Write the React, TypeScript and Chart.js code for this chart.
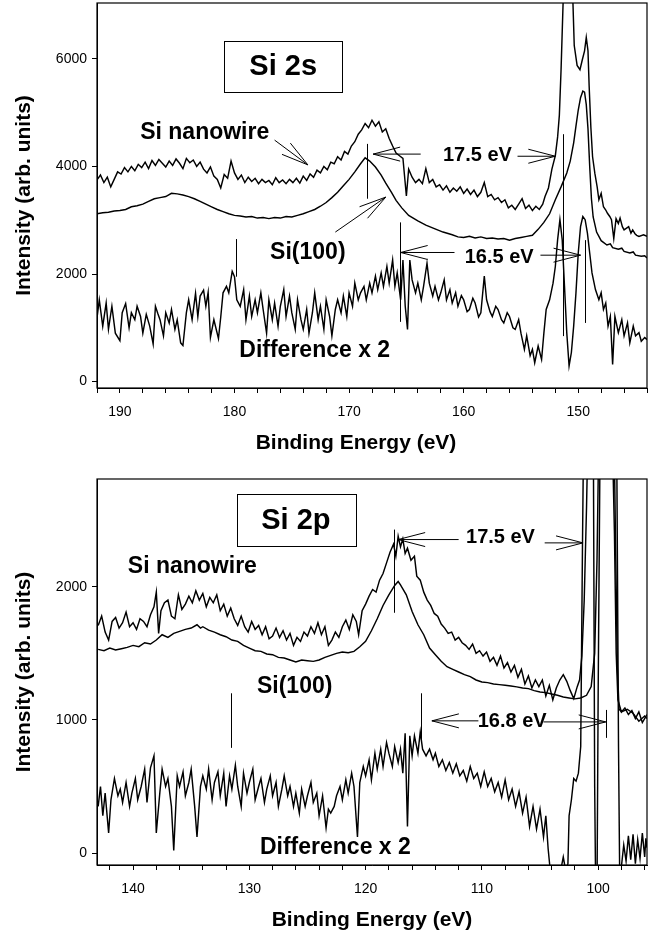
import React, { useEffect, useRef } from 'react';
import { Chart, registerables } from 'chart.js';

Chart.register(...registerables);

const FONT = '"Liberation Sans", Arial, Helvetica, sans-serif';

// ---------------- Si 2s panel data (binding energy eV, intensity) ----------------
const si2sNanowire: [number, number][] = [
  [192.0, 3750], [191.7, 3840], [191.4, 3700], [191.1, 3800], [190.8, 3620], [190.5, 3760], [190.2, 3900],
  [189.9, 3860], [189.6, 3980], [189.3, 3900], [189.0, 4000], [188.7, 3920], [188.4, 4040], [188.1, 3980],
  [187.8, 4080], [187.5, 3960], [187.2, 4110], [186.9, 4020], [186.6, 4130], [186.3, 4060], [186.0, 3990],
  [185.7, 4100], [185.4, 4020], [185.1, 4140], [184.8, 4060], [184.5, 3960], [184.2, 4150], [183.9, 4070],
  [183.6, 4120], [183.3, 4000], [183.0, 4080], [182.7, 3950], [182.4, 3880], [182.1, 3990], [181.8, 3820],
  [181.5, 3760], [181.2, 3600], [180.9, 3850], [180.6, 3780], [180.3, 4100], [180.0, 3880], [179.7, 3760],
  [179.4, 3840], [179.1, 3700], [178.8, 3800], [178.5, 3720], [178.2, 3780], [177.9, 3680], [177.6, 3760],
  [177.3, 3700], [177.0, 3740], [176.7, 3660], [176.4, 3790], [176.1, 3700], [175.8, 3750], [175.5, 3680],
  [175.2, 3760], [174.9, 3700], [174.6, 3780], [174.3, 3690], [174.0, 3820], [173.7, 3740], [173.4, 3860],
  [173.1, 3800], [172.8, 3930], [172.5, 3880], [172.2, 4000], [171.9, 3940], [171.6, 4080], [171.3, 4050],
  [171.0, 4180], [170.7, 4120], [170.4, 4280], [170.1, 4230], [169.8, 4380], [169.5, 4460], [169.2, 4600],
  [168.9, 4680], [168.6, 4800], [168.3, 4720], [168.0, 4860], [167.7, 4750], [167.4, 4830], [167.1, 4640],
  [166.8, 4700], [166.5, 4520], [166.2, 4380], [165.9, 4250], [165.6, 4200], [165.3, 4150], [165.0, 3450],
  [164.8, 3950], [164.5, 3800], [164.2, 3700], [163.9, 3760], [163.6, 3680], [163.3, 3960], [163.0, 3700],
  [162.7, 3760], [162.4, 3620], [162.1, 3660], [161.8, 3560], [161.5, 3640], [161.2, 3520], [160.9, 3600],
  [160.6, 3540], [160.3, 3620], [160.0, 3500], [159.7, 3580], [159.4, 3480], [159.1, 3560], [158.8, 3440],
  [158.5, 3520], [158.2, 3700], [157.9, 3440], [157.6, 3480], [157.3, 3380], [157.0, 3420], [156.7, 3330],
  [156.4, 3380], [156.1, 3230], [155.8, 3280], [155.5, 3200], [155.2, 3300], [154.9, 3400], [154.6, 3220],
  [154.3, 3280], [154.0, 3180], [153.7, 3260], [153.4, 3200], [153.1, 3300], [152.9, 3440], [152.6, 3600],
  [152.3, 3950], [152.0, 4200], [151.8, 4550], [151.65, 4950], [151.5, 5800], [151.3, 7200], [151.0, 9000],
  [150.7, 9000], [150.5, 7300], [150.35, 6250], [150.1, 5880], [149.85, 5800], [149.65, 5980], [149.45, 6150],
  [149.3, 6400], [149.15, 6150], [149.05, 5500], [148.9, 4730], [148.75, 4180], [148.55, 3870], [148.35, 3620],
  [148.2, 3380], [148.0, 3500], [147.8, 3250], [147.6, 3190], [147.45, 3130], [147.25, 3070], [147.1, 3010],
  [146.9, 2660], [146.7, 3030], [146.5, 2940], [146.35, 3040], [146.15, 2880], [146.0, 2820], [145.6, 2880],
  [145.4, 2760], [145.25, 2820], [145.05, 2750], [144.9, 2720], [144.7, 2700], [144.3, 2730], [144.0, 2700],
];

const si2sBulk: [number, number][] = [
  [192, 3120], [191.5, 3140], [191, 3150], [190.5, 3170], [190, 3180], [189.5, 3200], [189, 3250], [188.5, 3270],
  [188, 3300], [187.5, 3350], [187, 3400], [186.5, 3420], [186, 3440], [185.5, 3500], [185, 3490], [184.5, 3470],
  [184, 3440], [183.5, 3400], [183, 3350], [182.5, 3300], [182, 3250], [181.5, 3200], [181, 3160], [180.5, 3120],
  [180, 3090], [179.5, 3080], [179, 3060], [178.5, 3070], [178, 3040], [177.5, 3050], [177, 3030], [176.5, 3050],
  [176, 3040], [175.5, 3070], [175, 3060], [174.5, 3090], [174, 3120], [173.5, 3160], [173, 3200], [172.5, 3260],
  [172, 3330], [171.5, 3420], [171, 3520], [170.5, 3640], [170, 3760], [169.5, 3900], [169, 4050], [168.6, 4160],
  [168.2, 4100], [167.7, 3990], [167.2, 3840], [166.8, 3690], [166.3, 3520], [165.9, 3370], [165.4, 3230],
  [164.8, 3090], [164, 2990], [163.3, 2910], [162.5, 2840], [161.8, 2780], [161, 2730], [160.5, 2690], [160, 2680],
  [159.5, 2700], [159, 2670], [158.5, 2690], [158, 2660], [157.5, 2670], [157, 2650], [156.5, 2660], [156, 2630],
  [155.5, 2660], [155, 2680], [154.5, 2700], [154, 2720], [153.5, 2830], [153, 2960], [152.5, 3120], [152, 3380],
  [151.5, 3620], [151, 3880], [150.7, 4100], [150.4, 4440], [150.2, 4750], [150, 5050], [149.8, 5280], [149.6, 5400],
  [149.45, 5380], [149.3, 5150], [149.15, 4700], [149, 4000], [148.85, 3400], [148.7, 3060], [148.4, 2780],
  [148, 2620], [147.5, 2540], [147.2, 2560], [147, 2490], [146.5, 2460], [146.2, 2480], [146, 2420], [145.5, 2390],
  [145.2, 2410], [145, 2350], [144.5, 2330], [144.2, 2340], [144, 2300],
];

const si2sDifference: [number, number][] = [
  [192.0, 1185], [191.8, 1520], [191.5, 1030], [191.2, 1460], [191.0, 970], [190.7, 1400], [190.4, 900], [190.0, 760],
  [189.8, 1280], [189.5, 1450], [189.2, 1000], [189.0, 1280], [188.7, 1150], [188.5, 1400], [188.2, 1210], [188.0, 900],
  [187.7, 1250], [187.4, 1030], [187.1, 700], [186.9, 1400], [186.7, 1270], [186.5, 1150], [186.2, 850], [186.0, 1280],
  [185.7, 1090], [185.5, 1340], [185.2, 970], [185.0, 1150], [184.7, 720], [184.5, 670], [184.2, 1280], [184.0, 1520],
  [183.7, 1150], [183.4, 1640], [183.2, 1210], [183.0, 1590], [182.7, 1700], [182.5, 1400], [182.3, 1660], [182.1, 820],
  [181.8, 1150], [181.4, 800], [181.2, 1200], [181.0, 1650], [180.7, 1770], [180.5, 1650], [180.2, 2050], [180.0, 1950],
  [179.8, 1520], [179.5, 1400], [179.2, 1710], [179.0, 1150], [178.7, 1590], [178.5, 1210], [178.2, 1520], [178.0, 1280],
  [177.7, 1650], [177.5, 1340], [177.2, 900], [177.0, 1520], [176.7, 1150], [176.5, 1460], [176.2, 1030], [176.0, 1400],
  [175.7, 1710], [175.5, 1210], [175.2, 1590], [175.0, 1280], [174.7, 970], [174.5, 1520], [174.2, 1150], [174.0, 970],
  [173.7, 1340], [173.5, 900], [173.2, 1280], [173.0, 1650], [172.7, 1150], [172.5, 1400], [172.2, 970], [172.0, 1520],
  [171.7, 1210], [171.5, 850], [171.2, 1340], [171.0, 1520], [170.7, 1280], [170.5, 1590], [170.2, 1210], [170.0, 1650],
  [169.7, 1400], [169.5, 1830], [169.2, 1520], [169.0, 1650], [168.7, 1770], [168.5, 1520], [168.2, 1830], [168.0, 1650],
  [167.7, 1960], [167.5, 1710], [167.2, 2020], [167.0, 1770], [166.7, 2140], [166.5, 1830], [166.2, 2260], [166.0, 1770],
  [165.8, 2020], [165.5, 1520], [165.3, 2260], [165.1, 1400], [164.9, 970], [164.7, 2260], [164.5, 1890], [164.2, 1650],
  [164.0, 1830], [163.7, 1520], [163.5, 1770], [163.2, 2200], [163.0, 1830], [162.7, 1590], [162.5, 1770], [162.2, 1520],
  [162.0, 1650], [161.7, 1890], [161.5, 1520], [161.2, 1710], [161.0, 1460], [160.7, 1650], [160.5, 1400], [160.2, 1600],
  [160.0, 1520], [159.7, 1300], [159.5, 1340], [159.2, 1550], [159.0, 1460], [158.7, 1200], [158.5, 1280], [158.2, 1960],
  [158.0, 1520], [157.7, 1300], [157.5, 1210], [157.2, 1400], [157.0, 1340], [156.7, 1150], [156.5, 1090], [156.2, 1280],
  [156.0, 1210], [155.7, 1000], [155.5, 970], [155.2, 1150], [155.0, 900], [154.7, 600], [154.5, 850], [154.2, 480],
  [154.0, 600], [153.8, 350], [153.5, 660], [153.2, 410], [153.0, 900], [152.8, 1340], [152.5, 1520], [152.2, 1830],
  [152.0, 2140], [151.8, 2640], [151.6, 3010], [151.4, 2640], [151.2, 1770], [151.0, 900], [150.8, 290], [150.6, 540],
  [150.4, 1030], [150.2, 1650], [150.0, 2390], [149.8, 2880], [149.6, 3070], [149.4, 3010], [149.2, 2760], [149.0, 2390],
  [148.8, 2020], [148.5, 1710], [148.2, 1520], [148.0, 1650], [147.8, 1340], [147.6, 1460], [147.4, 1030], [147.2, 1210],
  [147.0, 320], [146.8, 1210], [146.5, 910], [146.2, 1150], [146.0, 850], [145.7, 1090], [145.5, 720], [145.2, 1030],
  [145.0, 850], [144.7, 910], [144.5, 750], [144.2, 820], [144.0, 780],
];

const si2sXTicks = [144, 146, 148, 150, 152, 154, 156, 158, 160, 162, 164, 166, 168, 170, 172, 174, 176, 178, 180, 182, 184, 186, 188, 190, 192];
const si2sYTicks = [0, 2000, 4000, 6000];

// ---------------- Si 2p panel data ----------------
const si2pNanowire: [number, number][] = [
  [143.0, 1710], [142.7, 1780], [142.4, 1660], [142.1, 1600], [141.8, 1740], [141.5, 1770], [141.2, 1690], [140.9, 1730],
  [140.6, 1810], [140.3, 1700], [140.0, 1730], [139.7, 1680], [139.4, 1760], [139.1, 1740], [138.8, 1700], [138.5, 1790],
  [138.2, 1850], [138.0, 1960], [137.8, 1650], [137.6, 1820], [137.3, 1880], [137.0, 1900], [136.7, 1780], [136.4, 1760],
  [136.1, 1940], [135.8, 1830], [135.5, 1870], [135.2, 1930], [134.9, 1880], [134.6, 1970], [134.3, 1900], [134.0, 1950],
  [133.7, 1850], [133.4, 1920], [133.1, 1880], [132.8, 1940], [132.5, 1820], [132.2, 1870], [131.9, 1780], [131.6, 1840],
  [131.3, 1760], [131.0, 1710], [130.7, 1780], [130.4, 1700], [130.1, 1660], [129.8, 1740], [129.5, 1680], [129.2, 1710],
  [128.9, 1640], [128.6, 1700], [128.3, 1610], [128.0, 1630], [127.7, 1690], [127.4, 1620], [127.1, 1670], [126.8, 1600],
  [126.5, 1650], [126.2, 1560], [125.9, 1620], [125.6, 1590], [125.3, 1660], [125.0, 1630], [124.7, 1700], [124.4, 1650],
  [124.1, 1730], [123.8, 1640], [123.5, 1700], [123.2, 1560], [122.9, 1600], [122.6, 1660], [122.3, 1620], [122.0, 1700],
  [121.7, 1750], [121.4, 1680], [121.1, 1790], [120.8, 1740], [120.6, 1640], [120.3, 1820], [120.0, 1870], [119.7, 1930],
  [119.4, 1980], [119.1, 1960], [118.8, 2050], [118.5, 2100], [118.2, 2180], [117.9, 2260], [117.6, 2320], [117.4, 2230],
  [117.2, 2380], [117.0, 2300], [116.8, 2360], [116.6, 2250], [116.4, 2290], [116.1, 2200], [115.8, 2230], [115.6, 2080],
  [115.3, 2050], [115.0, 1960], [114.7, 1900], [114.4, 1860], [114.1, 1800], [113.8, 1780], [113.5, 1720], [113.2, 1690],
  [112.9, 1650], [112.6, 1660], [112.3, 1600], [112.0, 1620], [111.7, 1580], [111.4, 1560], [111.1, 1530], [110.8, 1570],
  [110.5, 1500], [110.2, 1520], [109.9, 1480], [109.6, 1510], [109.3, 1440], [109.0, 1470], [108.7, 1410], [108.4, 1480],
  [108.1, 1390], [107.8, 1430], [107.5, 1360], [107.2, 1410], [106.9, 1320], [106.6, 1380], [106.3, 1270], [106.0, 1330],
  [105.7, 1240], [105.4, 1300], [105.1, 1250], [104.8, 1300], [104.5, 1180], [104.2, 1260], [103.9, 1150], [103.6, 1240],
  [103.3, 1300], [103.0, 1340], [102.7, 1290], [102.4, 1220], [102.1, 1160], [101.8, 1250], [101.6, 1300], [101.4, 1480],
  [101.2, 1900], [101.0, 2600], [100.8, 3500], [100.6, 4200], [100.3, 4400], [100.0, 4300], [99.7, 4200], [99.4, 4000],
  [99.1, 3700], [98.8, 3200], [98.6, 2400], [98.45, 1500], [98.3, 1150], [98.0, 1060], [97.7, 1090], [97.4, 1040],
  [97.1, 1070], [96.8, 1010], [96.5, 1060], [96.2, 980], [95.8, 1040],
];

const si2pBulk: [number, number][] = [
  [143.0, 1530], [142.5, 1520], [142, 1540], [141.5, 1525], [141, 1535], [140.5, 1545], [140, 1560], [139.5, 1550],
  [139, 1580], [138.5, 1570], [138, 1600], [137.5, 1640], [137, 1620], [136.5, 1650], [136, 1665], [135.5, 1680],
  [135, 1690], [134.5, 1715], [134.2, 1690], [134, 1700], [133.5, 1675], [133, 1660], [132.5, 1640], [132, 1625],
  [131.5, 1600], [131, 1590], [130.5, 1560], [130, 1540], [129.5, 1520], [129, 1515], [128.5, 1495], [128, 1490],
  [127.5, 1470], [127, 1465], [126.5, 1450], [126, 1435], [125.5, 1450], [125, 1445], [124.5, 1440], [124, 1450],
  [123.5, 1470], [123, 1485], [122.5, 1500], [122, 1510], [121.5, 1505], [121, 1515], [120.5, 1550], [120, 1590],
  [119.5, 1670], [119, 1760], [118.5, 1860], [118, 1940], [117.5, 2010], [117.2, 2040], [117, 2015], [116.5, 1940],
  [116, 1815], [115.5, 1715], [115, 1640], [114.5, 1540], [114, 1490], [113.5, 1440], [113, 1400], [112.5, 1380],
  [112, 1360], [111.5, 1340], [111, 1325], [110.5, 1300], [110, 1285], [109.5, 1280], [109, 1270], [108.5, 1265],
  [108, 1260], [107.5, 1255], [107, 1248], [106.5, 1240], [106, 1235], [105.5, 1220], [105, 1210], [104.5, 1205],
  [104, 1195], [103.5, 1185], [103, 1172], [102.5, 1165], [102, 1158], [101.5, 1165], [101, 1185], [100.6, 1250],
  [100.3, 1500], [100.1, 2200], [99.9, 3400], [99.6, 5000], [99.3, 5500], [99.0, 5000], [98.7, 3600], [98.5, 2300],
  [98.35, 1400], [98.2, 1080], [98, 1060], [97.5, 1080], [97, 1050], [96.5, 990], [96, 1030], [95.8, 1010],
];

const si2pDifference: [number, number][] = [
  [143.0, 350], [142.8, 500], [142.6, 280], [142.4, 450], [142.1, 150], [141.9, 400], [141.6, 560], [141.3, 430],
  [141.1, 480], [140.9, 380], [140.6, 530], [140.3, 350], [140.1, 450], [139.8, 560], [139.6, 400], [139.3, 500],
  [139.0, 630], [138.8, 380], [138.5, 640], [138.2, 730], [138.0, 150], [137.7, 450], [137.5, 630], [137.2, 500],
  [137.0, 560], [136.7, 350], [136.5, 20], [136.2, 580], [136.0, 500], [135.7, 610], [135.5, 430], [135.2, 530],
  [135.0, 630], [134.7, 350], [134.5, 120], [134.2, 500], [134.0, 580], [133.7, 480], [133.5, 630], [133.2, 400],
  [133.0, 530], [132.7, 610], [132.5, 430], [132.2, 600], [132.0, 350], [131.7, 580], [131.5, 480], [131.2, 660],
  [131.0, 500], [130.7, 350], [130.5, 600], [130.2, 450], [130.0, 530], [129.7, 630], [129.5, 400], [129.2, 500],
  [129.0, 560], [128.7, 380], [128.5, 480], [128.2, 580], [128.0, 430], [127.7, 530], [127.5, 350], [127.2, 480],
  [127.0, 580], [126.7, 430], [126.5, 500], [126.2, 350], [126.0, 450], [125.7, 300], [125.5, 480], [125.2, 350],
  [125.0, 430], [124.7, 530], [124.5, 380], [124.2, 450], [124.0, 280], [123.7, 430], [123.4, 190], [123.2, 330],
  [123.0, 300], [122.7, 350], [122.5, 430], [122.2, 500], [122.0, 400], [121.7, 550], [121.5, 450], [121.2, 600],
  [121.0, 500], [120.7, 120], [120.5, 530], [120.2, 650], [120.0, 580], [119.7, 700], [119.5, 550], [119.2, 750],
  [119.0, 630], [118.7, 780], [118.5, 650], [118.2, 830], [118.0, 750], [117.7, 650], [117.5, 800], [117.2, 680],
  [117.0, 780], [116.8, 600], [116.6, 900], [116.4, 200], [116.2, 880], [116.0, 730], [115.8, 880], [115.5, 750],
  [115.3, 910], [115.1, 780], [114.8, 730], [114.5, 780], [114.2, 700], [114.0, 750], [113.7, 650], [113.4, 700],
  [113.1, 620], [112.8, 680], [112.5, 600], [112.2, 670], [111.9, 580], [111.6, 620], [111.3, 540], [111.0, 650],
  [110.7, 560], [110.4, 600], [110.1, 500], [109.8, 610], [109.5, 500], [109.2, 560], [108.9, 460], [108.6, 530],
  [108.3, 420], [108.0, 550], [107.7, 400], [107.4, 480], [107.1, 350], [106.8, 460], [106.5, 300], [106.2, 420],
  [105.9, 200], [105.6, 350], [105.3, 180], [105.0, 330], [104.7, 120], [104.5, 280], [104.3, 30], [104.1, -150],
  [103.6, -150], [103.2, -120], [103.0, -30], [102.8, -130], [102.6, -80], [102.5, 280], [102.3, 400], [102.1, 560],
  [101.9, 540], [101.7, 600], [101.5, 800], [101.35, 2300], [101.2, 3600], [100.9, 4500], [100.6, 4200], [100.4, 2800],
  [100.3, 500], [100.2, -400], [100.1, -300], [100.0, 1200], [99.8, 3500], [99.4, 4500], [98.8, 4200], [98.4, 3000],
  [98.25, 800], [98.15, -150], [98.0, -100], [97.8, 60], [97.6, -60], [97.4, 130], [97.2, -50], [97.0, 140],
  [96.8, -80], [96.6, 100], [96.4, -40], [96.2, 150], [96.0, -30], [95.9, 110], [95.8, 40],
];

const si2pXTicks = [96, 98, 100, 102, 104, 106, 108, 110, 112, 114, 116, 118, 120, 122, 124, 126, 128, 130, 132, 134, 136, 138, 140, 142];
const si2pYTicks = [0, 1000, 2000];

// ---------------- annotations (data coordinates) ----------------
type Ann = {
  box: { x1: number; x2: number; y1: number; y2: number; text: string };
  texts: { x: number; y: number; text: string; size: number }[];
  arrows: { x1: number; y1: number; x2: number; y2: number }[];
  markers: { x: number; y1: number; y2: number }[];
};

const si2sAnn: Ann = {
  box: { x1: 180.9, x2: 170.6, y1: 6340, y2: 5390, text: 'Si 2s' },
  texts: [
    { x: 182.6, y: 4620, text: 'Si nanowire', size: 23 },
    { x: 173.6, y: 2390, text: 'Si(100)', size: 23 },
    { x: 173.0, y: 580, text: 'Difference x 2', size: 23 },
    { x: 158.8, y: 4210, text: '17.5 eV', size: 20 },
    { x: 156.9, y: 2310, text: '16.5 eV', size: 20 },
  ],
  arrows: [
    { x1: 163.75, y1: 4230, x2: 167.9, y2: 4230 },
    { x1: 155.3, y1: 4190, x2: 152.0, y2: 4190 },
    { x1: 160.8, y1: 2400, x2: 165.5, y2: 2400 },
    { x1: 153.3, y1: 2350, x2: 149.8, y2: 2350 },
    { x1: 176.5, y1: 4490, x2: 173.6, y2: 4030 },
    { x1: 171.2, y1: 2780, x2: 166.8, y2: 3430 },
  ],
  markers: [
    { x: 179.9, y1: 2650, y2: 1950 },
    { x: 168.4, y1: 4420, y2: 3400 },
    { x: 165.6, y1: 2960, y2: 1110 },
    { x: 151.3, y1: 4600, y2: 845 },
    { x: 149.4, y1: 2630, y2: 1090 },
  ],
};

const si2pAnn: Ann = {
  box: { x1: 131.1, x2: 120.9, y1: 2700, y2: 2310, text: 'Si 2p' },
  texts: [
    { x: 134.9, y: 2150, text: 'Si nanowire', size: 23 },
    { x: 126.1, y: 1250, text: 'Si(100)', size: 23 },
    { x: 122.6, y: 38, text: 'Difference x 2', size: 23 },
    { x: 108.4, y: 2370, text: '17.5 eV', size: 20 },
    { x: 107.4, y: 985, text: '16.8 eV', size: 20 },
  ],
  arrows: [
    { x1: 112.0, y1: 2355, x2: 117.2, y2: 2355 },
    { x1: 104.6, y1: 2330, x2: 101.3, y2: 2330 },
    { x1: 110.3, y1: 993, x2: 114.3, y2: 993 },
    { x1: 104.7, y1: 985, x2: 99.35, y2: 985 },
  ],
  markers: [
    { x: 117.6, y1: 2430, y2: 1805 },
    { x: 131.6, y1: 1200, y2: 790 },
    { x: 115.2, y1: 1200, y2: 835 },
    { x: 99.3, y1: 1075, y2: 865 },
  ],
};

function makeAnnotationPlugin(ann: Ann, xTitle: string, xTitleShift: number) {
  return {
    id: 'xpsAnnotations',
    afterDatasetsDraw(chart: any) {
      const { ctx, scales } = chart;
      const xs = scales.x;
      const ys = scales.y;
      const px = (v: number) => xs.getPixelForValue(v);
      const py = (v: number) => ys.getPixelForValue(v);
      ctx.save();
      ctx.strokeStyle = '#000';
      ctx.fillStyle = '#000';
      ctx.lineWidth = 1;
      for (const m of ann.markers) {
        ctx.beginPath();
        ctx.moveTo(Math.round(px(m.x)) + 0.5, py(m.y1));
        ctx.lineTo(Math.round(px(m.x)) + 0.5, py(m.y2));
        ctx.stroke();
      }
      for (const a of ann.arrows) {
        const x1 = px(a.x1), y1 = py(a.y1), x2 = px(a.x2), y2 = py(a.y2);
        const dx = x2 - x1, dy = y2 - y1;
        const len = Math.hypot(dx, dy) || 1;
        const ux = dx / len, uy = dy / len;
        const hl = 27, hw = 7;
        ctx.beginPath();
        ctx.moveTo(x1, y1);
        ctx.lineTo(x2, y2);
        ctx.moveTo(x2, y2);
        ctx.lineTo(x2 - ux * hl - uy * hw, y2 - uy * hl + ux * hw);
        ctx.moveTo(x2, y2);
        ctx.lineTo(x2 - ux * hl + uy * hw, y2 - uy * hl - ux * hw);
        ctx.stroke();
      }
      const b = ann.box;
      const bx1 = px(b.x1), bx2 = px(b.x2), by1 = py(b.y1), by2 = py(b.y2);
      ctx.fillStyle = '#fff';
      ctx.fillRect(bx1, by1, bx2 - bx1, by2 - by1);
      ctx.strokeRect(Math.round(bx1) + 0.5, Math.round(by1) + 0.5, Math.round(bx2 - bx1), Math.round(by2 - by1));
      ctx.fillStyle = '#000';
      ctx.textAlign = 'center';
      ctx.textBaseline = 'middle';
      ctx.font = `bold 29px ${FONT}`;
      ctx.fillText(b.text, (bx1 + bx2) / 2, (by1 + by2) / 2 + 1);
      for (const t of ann.texts) {
        ctx.font = `bold ${t.size}px ${FONT}`;
        ctx.fillText(t.text, px(t.x), py(t.y));
      }
      ctx.restore();
    },
    afterDraw(chart: any) {
      const { ctx, chartArea } = chart;
      ctx.save();
      ctx.strokeStyle = '#000';
      ctx.lineWidth = 1.2;
      ctx.strokeRect(chartArea.left, chartArea.top, chartArea.right - chartArea.left, chartArea.bottom - chartArea.top);
      ctx.fillStyle = '#000';
      ctx.textAlign = 'center';
      ctx.textBaseline = 'middle';
      ctx.font = `bold 21px ${FONT}`;
      ctx.fillText(xTitle, (chartArea.left + chartArea.right) / 2 + xTitleShift, chartArea.bottom + 55);
      ctx.restore();
    },
  };
}

type PanelProps = {
  width: number;
  height: number;
  top: number;
  padTop: number;
  xMin: number;
  xMax: number;
  yMin: number;
  yMax: number;
  xTicks: number[];
  yTicks: number[];
  nanowire: [number, number][];
  bulk: [number, number][];
  diff: [number, number][];
  ann: Ann;
  xTitleShift: number;
};

function Panel(p: PanelProps) {
  const ref = useRef<HTMLCanvasElement | null>(null);
  useEffect(() => {
    if (!ref.current) return;
    const toPts = (arr: [number, number][]) => arr.map(([x, y]) => ({ x, y }));
    const ds = (label: string, arr: [number, number][]) => ({
      label,
      data: toPts(arr),
      borderColor: '#000',
      backgroundColor: '#000',
      borderWidth: 1.45,
      pointRadius: 0,
      tension: 0,
      fill: false,
    });
    const chart = new Chart(ref.current, {
      type: 'line',
      data: {
        datasets: [ds('Si nanowire', p.nanowire), ds('Si(100)', p.bulk), ds('Difference x 2', p.diff)],
      },
      options: {
        responsive: false,
        animation: false,
        events: [],
        layout: { autoPadding: false, padding: { top: p.padTop, right: 9, left: 0, bottom: 0 } },
        plugins: { legend: { display: false }, tooltip: { enabled: false } },
        scales: {
          x: {
            type: 'linear',
            reverse: true,
            min: p.xMin,
            max: p.xMax,
            afterBuildTicks: (s: any) => {
              s.ticks = p.xTicks.map((v) => ({ value: v }));
            },
            afterFit: (s: any) => {
              s.height = 72;
              s.paddingLeft = 0;
              s.paddingRight = 0;
            },
            ticks: {
              autoSkip: false,
              maxRotation: 0,
              color: '#000',
              padding: 11,
              font: { family: FONT, size: 14 },
              callback: (v: any) => (Number(v) % 10 === 0 ? String(v) : ''),
            },
            grid: { drawOnChartArea: false, drawTicks: true, tickLength: 5, color: '#000' },
            border: { display: true, color: '#000', width: 1 },
            title: { display: false },
          },
          y: {
            type: 'linear',
            min: p.yMin,
            max: p.yMax,
            afterBuildTicks: (s: any) => {
              s.ticks = p.yTicks.map((v) => ({ value: v }));
            },
            afterFit: (s: any) => {
              s.width = 97;
              s.paddingTop = 0;
              s.paddingBottom = 0;
            },
            ticks: {
              color: '#000',
              padding: 5,
              font: { family: FONT, size: 14 },
              callback: (v: any) => String(v),
            },
            grid: { drawOnChartArea: false, drawTicks: true, tickLength: 5, color: '#000' },
            border: { display: true, color: '#000', width: 1 },
            title: {
              display: true,
              text: 'Intensity (arb. units)',
              color: '#000',
              font: { family: FONT, size: 21, weight: 'bold' },
              padding: { top: 12, bottom: 0 },
            },
          },
        },
      } as any,
      plugins: [makeAnnotationPlugin(p.ann, 'Binding Energy (eV)', p.xTitleShift)],
    });
    return () => chart.destroy();
  }, []);
  return (
    <canvas
      ref={ref}
      width={p.width}
      height={p.height}
      style={{ position: 'absolute', left: 0, top: p.top, width: p.width, height: p.height }}
    />
  );
}

export default function App() {
  return (
    <div style={{ position: 'absolute', left: 0, top: 0, width: 656, height: 937, background: '#fff' }}>
      <Panel
        width={656}
        height={460}
        top={0}
        padTop={3}
        xMin={144}
        xMax={192}
        yMin={-120}
        yMax={7040}
        xTicks={si2sXTicks}
        yTicks={si2sYTicks}
        nanowire={si2sNanowire}
        bulk={si2sBulk}
        diff={si2sDifference}
        ann={si2sAnn}
        xTitleShift={-16}
      />
      <Panel
        width={656}
        height={477}
        top={460}
        padTop={19}
        xMin={95.8}
        xMax={143.1}
        yMin={-90}
        yMax={2810}
        xTicks={si2pXTicks}
        yTicks={si2pYTicks}
        nanowire={si2pNanowire}
        bulk={si2pBulk}
        diff={si2pDifference}
        ann={si2pAnn}
        xTitleShift={0}
      />
    </div>
  );
}
